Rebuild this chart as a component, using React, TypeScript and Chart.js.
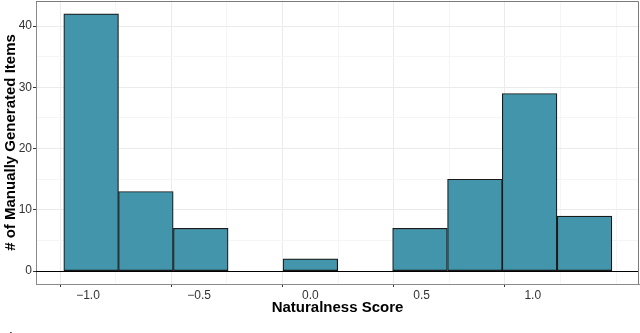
import React, { useEffect, useRef } from 'react';
import { Chart, registerables } from 'chart.js';

Chart.register(...registerables);

// Histogram bins (centres) and counts
const binCenters = [-0.986, -0.74, -0.493, -0.247, 0.0, 0.247, 0.493, 0.74, 0.986, 1.233];
const itemCounts = [42, 13, 7, 0, 2, 0, 7, 15, 29, 9];

// Axis ticks
const xGridValues = [-1.0, -0.75, -0.5, -0.25, 0, 0.25, 0.5, 0.75, 1.0, 1.25];
const xLabelValues = [-1.0, -0.5, 0, 0.5, 1.0];
const yGridValues = [0, 5, 10, 15, 20, 25, 30, 35, 40];
const yLabelValues = [0, 10, 20, 30, 40];

const xTitle = 'Naturalness Score';
const yTitle = '# of Manually Generated Items';

const isIn = (arr: number[], v: number) => arr.some((a) => Math.abs(a - v) < 1e-6);
const fmtX = (v: number) => {
  const s = Math.abs(v).toFixed(1);
  return v < -1e-9 ? '\u2212' + s : s;
};

const FONT = "'Liberation Sans', Arial, Helvetica, sans-serif";

const framePlugin = {
  id: 'frame',
  afterDatasetsDraw(chart: any) {
    const { ctx, chartArea, scales } = chart;
    const y0 = Math.round(scales.y.getPixelForValue(0)) + 0.5;
    ctx.save();
    ctx.strokeStyle = '#000000';
    ctx.lineWidth = 1.2;
    ctx.beginPath();
    ctx.moveTo(chartArea.left, y0);
    ctx.lineTo(chartArea.right, y0);
    ctx.stroke();
    ctx.restore();
  },
  afterDraw(chart: any) {
    const { ctx, chartArea } = chart;
    ctx.save();
    ctx.strokeStyle = '#7a7a7a';
    ctx.lineWidth = 1;
    ctx.beginPath();
    ctx.moveTo(chartArea.left, chartArea.top + 0.5);
    ctx.lineTo(chartArea.right - 0.5, chartArea.top + 0.5);
    ctx.lineTo(chartArea.right - 0.5, chartArea.bottom);
    ctx.stroke();
    ctx.restore();
  },
};

export default function App() {
  const canvasRef = useRef<HTMLCanvasElement | null>(null);

  useEffect(() => {
    const canvas = canvasRef.current;
    if (!canvas) return;
    const chart = new Chart(canvas, {
      type: 'bar',
      data: {
        datasets: [
          {
            data: binCenters.map((x, i) => ({ x, y: itemCounts[i] })),
            backgroundColor: '#4295AA',
            borderColor: '#1a1a1a',
            borderWidth: 1.2,
            borderSkipped: false,
            barPercentage: 1,
            categoryPercentage: 1,
          } as any,
        ],
      },
      options: {
        animation: false,
        responsive: false,
        devicePixelRatio: 1,
        layout: { padding: { top: 1, right: 1, bottom: 0, left: 0 } },
        plugins: { legend: { display: false }, tooltip: { enabled: false } },
        scales: {
          x: {
            type: 'linear',
            min: -1.234,
            max: 1.478,
            offset: false,
            afterBuildTicks: (scale: any) => {
              scale.ticks = xGridValues.map((v) => ({ value: v }));
            },
            afterFit: (scale: any) => {
              scale.height = 49;
              scale.paddingLeft = 0;
              scale.paddingRight = 0;
            },
            grid: {
              color: (c: any) => (isIn(xLabelValues, c.tick?.value) ? '#ebebeb' : '#f5f5f5'),
              tickColor: (c: any) => (isIn(xLabelValues, c.tick?.value) ? '#333333' : 'rgba(255,255,255,0)'),
              tickLength: 3,
              lineWidth: 1,
            },
            border: { display: true, color: '#8a8a8a', width: 1 },
            ticks: {
              autoSkip: false,
              maxRotation: 0,
              padding: 1,
              color: '#333333',
              font: { family: FONT, size: 12 },
              callback: (v: any) => (isIn(xLabelValues, Number(v)) ? fmtX(Number(v)) : ''),
            },
            title: {
              display: true,
              text: xTitle,
              color: '#000000',
              font: { family: FONT, size: 15, weight: 'bold' },
              padding: { top: 0, bottom: 16 },
            },
          },
          y: {
            type: 'linear',
            min: -2.1,
            max: 44.1,
            afterBuildTicks: (scale: any) => {
              scale.ticks = yGridValues.map((v) => ({ value: v }));
            },
            afterFit: (scale: any) => {
              scale.width = 36;
              scale.paddingTop = 0;
              scale.paddingBottom = 0;
            },
            grid: {
              color: (c: any) => (isIn(yLabelValues, c.tick?.value) ? '#ebebeb' : '#f5f5f5'),
              tickColor: (c: any) => (isIn(yLabelValues, c.tick?.value) ? '#333333' : 'rgba(255,255,255,0)'),
              tickLength: 3,
              lineWidth: 1,
            },
            border: { display: true, color: '#8a8a8a', width: 1 },
            ticks: {
              autoSkip: false,
              padding: 1,
              color: '#333333',
              font: { family: FONT, size: 12 },
              callback: (v: any) => (isIn(yLabelValues, Number(v)) ? String(Number(v)) : ''),
            },
            title: {
              display: true,
              text: yTitle,
              color: '#000000',
              font: { family: FONT, size: 15, weight: 'bold' },
              padding: { top: 2, bottom: 0 },
            },
          },
        },
      },
      plugins: [framePlugin],
    } as any);
    return () => chart.destroy();
  }, []);

  return (
    <div
      style={{
        position: 'fixed',
        left: 0,
        top: 0,
        width: 640,
        height: 333,
        overflow: 'hidden',
        background: '#ffffff',
      }}
    >
      <canvas ref={canvasRef} width={640} height={333} style={{ display: 'block' }} />
      <div
        style={{
          position: 'absolute',
          left: 1,
          top: 329,
          fontFamily: "'Liberation Serif', 'Times New Roman', serif",
          fontSize: 13,
          fontWeight: 'bold',
          color: '#333',
          whiteSpace: 'nowrap',
          lineHeight: '15px',
        }}
      >
        Figure 1:
      </div>
    </div>
  );
}
